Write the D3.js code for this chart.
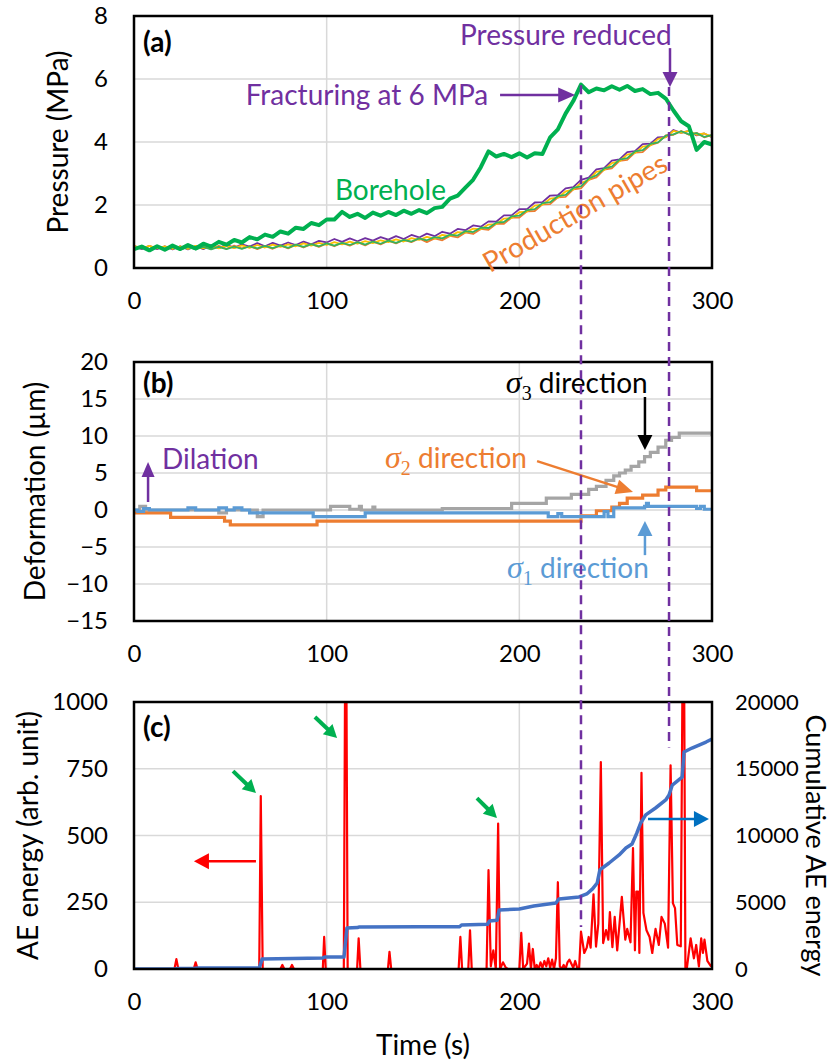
<!DOCTYPE html>
<html>
<head>
<meta charset="utf-8">
<script src="https://cdn.jsdelivr.net/npm/d3@7"></script>
<style>
  body { margin: 0; background: #fff; }
  text { font-family: Lato, 'Open Sans', sans-serif; }
</style>
</head>
<body>
<svg id="chart" width="832" height="1064"></svg>
<script>
// ---- data ----

// panel (a): pressure in MPa, sampled every 4 s from 0 to 300 s
const pressureTime = d3.range(0, 301, 4)
const boreholePressure = [0.60,0.68,0.56,0.69,0.58,0.71,0.60,0.73,0.62,0.77,
  0.68,0.83,0.74,0.89,0.81,0.98,0.91,1.06,0.99,1.16,
  1.09,1.28,1.24,1.43,1.36,1.54,1.54,1.78,1.62,1.72,
  1.59,1.76,1.66,1.78,1.68,1.82,1.72,1.84,1.74,1.90,
  1.94,2.20,2.30,2.55,2.80,3.20,3.70,3.54,3.62,3.52,
  3.64,3.51,3.64,3.62,4.15,4.40,4.90,5.30,5.82,5.58,
  5.70,5.64,5.77,5.66,5.78,5.62,5.68,5.52,5.56,5.38,
  5.00,4.66,4.50,3.75,4.00,3.92]
const pipePurple = [0.70,0.60,0.70,0.60,0.69,0.59,0.69,0.59,0.70,0.60,
  0.73,0.63,0.74,0.64,0.75,0.68,0.79,0.69,0.80,0.71,
  0.81,0.73,0.84,0.75,0.86,0.81,0.92,0.83,0.94,0.85,
  0.95,0.87,0.98,0.90,1.01,0.92,1.05,0.97,1.09,1.01,
  1.15,1.09,1.24,1.20,1.35,1.31,1.48,1.47,1.67,1.67,
  1.87,1.87,2.08,2.09,2.30,2.31,2.53,2.57,2.80,2.87,
  3.13,3.17,3.41,3.45,3.68,3.71,3.93,3.95,4.15,4.16,
  4.38,4.29,4.35,4.21,4.27,4.15]
const pipeOrange = [0.60,0.70,0.60,0.70,0.59,0.69,0.59,0.69,0.60,0.70,
  0.60,0.70,0.61,0.71,0.62,0.69,0.60,0.70,0.61,0.72,
  0.62,0.74,0.65,0.76,0.67,0.78,0.69,0.80,0.71,0.82,
  0.72,0.84,0.75,0.87,0.78,0.89,0.82,0.94,0.82,0.94,
  0.88,1.02,0.97,1.13,1.08,1.24,1.21,1.40,1.40,1.60,
  1.60,1.80,1.81,2.02,2.03,2.24,2.26,2.50,2.53,2.80,
  2.88,3.12,3.16,3.40,3.43,3.66,3.68,3.90,3.98,4.21,
  4.23,4.35,4.23,4.29,4.15,4.23]
const pipeYellow = [0.70,0.62,0.70,0.62,0.69,0.61,0.69,0.61,0.70,0.62,
  0.70,0.62,0.71,0.63,0.72,0.64,0.73,0.65,0.74,0.67,
  0.75,0.69,0.78,0.71,0.80,0.73,0.82,0.75,0.84,0.77,
  0.85,0.79,0.88,0.82,0.91,0.84,0.95,0.89,0.99,0.93,
  1.05,1.01,1.14,1.12,1.25,1.23,1.38,1.39,1.57,1.59,
  1.77,1.79,1.98,2.01,2.20,2.23,2.43,2.49,2.70,2.79,
  3.05,3.11,3.33,3.39,3.60,3.65,3.85,3.89,4.10,4.15,
  4.35,4.29,4.35,4.23,4.27,4.17]
const pipeGreen = [0.59,0.67,0.59,0.67,0.58,0.66,0.58,0.66,0.59,0.67,
  0.59,0.67,0.60,0.68,0.61,0.69,0.62,0.70,0.63,0.72,
  0.64,0.74,0.67,0.76,0.69,0.78,0.71,0.80,0.73,0.82,
  0.74,0.84,0.77,0.87,0.80,0.89,0.84,0.94,0.88,0.98,
  0.94,1.06,1.03,1.17,1.14,1.28,1.27,1.44,1.46,1.64,
  1.66,1.84,1.87,2.06,2.09,2.28,2.32,2.54,2.59,2.84,
  2.94,3.16,3.22,3.44,3.49,3.70,3.74,3.94,3.99,4.20,
  4.24,4.34,4.24,4.28,4.16,4.22]

// panel (b): deformation steps [time s, µm]
const sigma3Steps = [[0,0],[3,0.5],[6,0],[44,-0.4],[48,0],[64,-0.9],[67,0],[102,0.5],[112,0.1],
  [117,0.5],[118,0],[124,0.4],[125,0],[160,0.2],[196,0.9],[214,1.6],[227,2.1],[236,2.8],
  [240,3.2],[245,4.0],[249,4.6],[252,5.0],[255,5.4],[258,5.9],[262,6.5],[265,7.2],[268,7.8],
  [272,8.5],[276,9.4],[279,9.8],[283,10.4],[299,10.4],[300,10.0]]
const sigma2Steps = [[0,-0.4],[19,-1.0],[47,-1.5],[50,-2.0],[95,-1.5],[232,-0.8],[240,-0.1],
  [248,0.4],[252,0.9],[256,1.6],[264,2.0],[272,2.7],[276,3.1],[292,2.6],[300,2.6]]
const sigma1Steps = [[0,0],[2,-0.2],[5,0.2],[8,0],[28,0.3],[32,0],[44,0.3],[48,0],[52,0.3],
  [56,0],[60,-0.4],[93,-0.9],[120,-0.4],[215,-0.9],[220,-0.5],[222,-0.9],[244,-0.2],
  [246,-0.9],[249,0.3],[265,0.5],[266,0.9],[267,0.5],[290,0.5],[292,0.2],[294,0.5],
  [296,0.1],[300,0.1]]

// panel (c): AE energy [time s, arb. unit] and cumulative AE energy
const aeEnergy = [[0,0],[21,0],[22,37],[23,0],[31,0],[32,25],[33,0],[65,0],[65.8,648],[66.8,0],
  [76,0],[77,15],[78,0],[81,0],[82,15],[83,0],[98,0],[98.7,120],[99.5,0],
  [108.9,0],[109.5,1000],[110.3,1000],[110.9,0],[115.8,0],[116.6,115],[117.5,0],
  [131.8,0],[132.6,64],[133.5,0],[168.5,0],[169.4,120],[170.3,0],[173.5,0],[174.4,145],[175.3,0],
  [183,0],[184,370],[185.2,10],[186.5,70],[187.8,0],[189,545],[190,0],[191.5,25],[193,5],[194,0],
  [200,0],[201,135],[202,0],[204,20],[205,95],[206,0],[207,75],[208,0],[209,15],[210,0],
  [211,25],[212,5],[213,30],[214,10],[215,40],[216,5],[217,35],[218,0],[219,40],[220,325],
  [221,10],[222,0],[223,15],[224,0],[225,25],[226,35],[227,20],[228,5],[229,30],[230,5],[231,0],
  [232,140],[233.7,60],[235,80],[236,120],[237,80],[238.5,280],[239.8,84],[241,170],[242.3,775],
  [243.5,97],[245,146],[246.2,110],[247,213],[248.3,82],[249.5,195],[250.8,70],[253.2,270],
  [255,110],[256,150],[257.7,100],[259,453],[260,70],[260.7,290],[261.7,290],[262.3,60],
  [263.4,735],[264.4,210],[266,145],[267.6,120],[269,60],[270.7,150],[272.4,90],[273.8,195],
  [275.5,170],[277.2,80],[278.5,763],[279.7,247],[280.8,228],[282,90],[283.8,85],[284.6,1000],
  [285.6,1000],[286.2,5],[287,5],[288.9,115],[290.6,40],[291.8,90],[293.2,10],[294.4,115],
  [295.3,60],[296.1,110],[297.6,30],[299.3,12],[300,15]]
const cumulativeAE = [[0,0],[21,0],[23,40],[31,40],[33,70],[65,70],[66.5,750],[98,830],[99,900],
  [109,900],[110.5,3070],[116,3100],[117,3150],[148,3170],[169,3170],[170,3300],[183.5,3350],
  [184.5,3600],[188.5,3650],[189.5,4420],[200,4500],[207.5,4720],[219,4940],[220.5,5240],
  [231,5400],[235,5620],[238,6000],[240.4,6440],[241.8,7420],[246.6,7940],[251.8,8540],
  [255.3,9060],[258.5,9360],[261,10190],[263,10940],[265.6,11540],[270.7,12060],[276,12660],
  [277.7,13030],[279.4,13780],[284.5,14380],[285.5,16250],[289.6,16550],[296.9,17000],[300,17230]]

// ticks
const timeTicks = [0, 100, 200, 300]
const pressureTicks = [0, 2, 4, 6, 8]
const deformationTicks = [-15, -10, -5, 0, 5, 10, 15, 20]
const energyTicks = [0, 250, 500, 750, 1000]
const cumulativeTicks = [0, 5000, 10000, 15000, 20000]

// event times (dashed lines)
const fractureTime = 232
const reduceTime = 277.7

// ---- layout ----
const width = 832
const height = 1064
const plotLeft = 134
const plotRight = 712
const textSize = 28
const tickSize = 24

const purple = '#7030A0'
const orange = '#ED7D31'
const gridColor = '#D9D9D9'

const svg = d3.select('#chart')
svg.append('rect').attr('width', width).attr('height', height).attr('fill', '#fff')

const x = d3.scaleLinear().domain([0, 300]).range([plotLeft, plotRight])
const yA = d3.scaleLinear().domain([0, 8]).range([268, 16])
const yB = d3.scaleLinear().domain([-15, 20]).range([621, 362])
const yC = d3.scaleLinear().domain([0, 1000]).range([969, 702])
const yC2 = d3.scaleLinear().domain([0, 20000]).range([969, 702])

const defs = svg.append('defs')

function styleAxis(a) {
  a.select('.domain').remove()
  a.selectAll('text').attr('font-size', tickSize).attr('fill', '#000')
    .attr('font-family', 'Lato, sans-serif')
}

function panel(id, y, yTicks) {
  const g = svg.append('g').attr('id', id)
  const [y0, y1] = y.range()
  // grid
  g.append('g')
    .selectAll('line')
    .data(yTicks.slice(1, -1))
    .join('line')
    .attr('x1', plotLeft).attr('x2', plotRight)
    .attr('y1', (d) => y(d)).attr('y2', (d) => y(d))
    .attr('stroke', gridColor).attr('stroke-width', 1.5)
  g.append('g')
    .selectAll('line')
    .data(timeTicks.slice(1, -1))
    .join('line')
    .attr('x1', (d) => x(d)).attr('x2', (d) => x(d))
    .attr('y1', y1).attr('y2', y0)
    .attr('stroke', gridColor).attr('stroke-width', 1.5)

  defs.append('clipPath').attr('id', id + '-clip')
    .append('rect')
    .attr('x', plotLeft).attr('y', y1)
    .attr('width', plotRight - plotLeft).attr('height', y0 - y1)

  // axes, no tick marks, like the reference
  g.append('g')
    .attr('transform', `translate(${plotLeft},0)`)
    .call(d3.axisLeft(y).tickValues(yTicks).tickFormat(d3.format('d')).tickSize(0).tickPadding(26))
    .call(styleAxis)
  g.append('g')
    .attr('transform', `translate(0,${y0})`)
    .call(d3.axisBottom(x).tickValues(timeTicks).tickFormat(d3.format('d')).tickSize(0).tickPadding(24))
    .call(styleAxis)
  return g
}

function frame(g, y) {
  const [y0, y1] = y.range()
  g.append('rect')
    .attr('x', plotLeft).attr('y', y1)
    .attr('width', plotRight - plotLeft).attr('height', y0 - y1)
    .attr('fill', 'none').attr('stroke', '#000').attr('stroke-width', 2.5)
}

function arrow(g, x1, y1, x2, y2, color, lw, headLen, headW) {
  const dx = x2 - x1
  const dy = y2 - y1
  const len = Math.hypot(dx, dy)
  const ux = dx / len
  const uy = dy / len
  const bx = x2 - ux * headLen
  const by = y2 - uy * headLen
  g.append('line')
    .attr('x1', x1).attr('y1', y1).attr('x2', bx + ux).attr('y2', by + uy)
    .attr('stroke', color).attr('stroke-width', lw)
  g.append('path')
    .attr('d', `M${x2},${y2}L${bx - uy * headW / 2},${by + ux * headW / 2}L${bx + uy * headW / 2},${by - ux * headW / 2}Z`)
    .attr('fill', color)
}

function label(g, text, px, py, color, opts = {}) {
  return g.append('text')
    .attr('x', px).attr('y', py)
    .attr('dy', '0.35em')
    .attr('font-size', opts.size || textSize)
    .attr('font-weight', opts.bold ? 'bold' : null)
    .attr('text-anchor', opts.anchor || 'start')
    .attr('fill', color)
    .text(text)
}

function axisTitle(g, text, px, py, angle, size = textSize) {
  g.append('text')
    .attr('transform', `translate(${px},${py}) rotate(${angle})`)
    .attr('text-anchor', 'middle').attr('dy', '0.35em')
    .attr('font-size', size)
    .text(text)
}

function sigmaLabel(g, sub, px, py, color) {
  const t = g.append('text')
    .attr('x', px).attr('y', py).attr('dy', '0.35em')
    .attr('font-size', textSize).attr('fill', color)
  t.append('tspan')
    .attr('font-family', "'Liberation Serif', 'DejaVu Serif', serif")
    .attr('font-style', 'italic').attr('font-size', 32)
    .text('σ')
  t.append('tspan')
    .attr('font-family', "'Liberation Serif', 'DejaVu Serif', serif")
    .attr('font-size', 20).attr('dy', 7)
    .text(sub)
  t.append('tspan').attr('dy', -7).text(' direction')
  return t
}

// ---- panel (a) ----
const gA = panel('panel-a', yA, pressureTicks)
const pressureLine = (values) =>
  d3.line().x((d, i) => x(pressureTime[i])).y((d) => yA(d))(values)

const pipes = [
  { values: pipePurple, color: purple },
  { values: pipeOrange, color: orange },
  { values: pipeYellow, color: '#FFC000' },
  { values: pipeGreen, color: '#35B35C' },
]
gA.append('g')
  .attr('clip-path', 'url(#panel-a-clip)')
  .selectAll('path')
  .data(pipes)
  .join('path')
  .attr('d', (d) => pressureLine(d.values))
  .attr('fill', 'none')
  .attr('stroke', (d) => d.color)
  .attr('stroke-width', 1.8)
  .attr('stroke-linejoin', 'round')

gA.append('path')
  .attr('d', pressureLine(boreholePressure))
  .attr('fill', 'none')
  .attr('stroke', '#00B050')
  .attr('stroke-width', 4)
  .attr('stroke-linejoin', 'round')
frame(gA, yA)

label(gA, '(a)', x(4.7), yA(7.17), '#000', { bold: true })
label(gA, 'Fracturing at 6 MPa', x(58), yA(5.49), purple)
arrow(gA, x(190), yA(5.49), x(229), yA(5.49), purple, 2.5, 17, 15)
label(gA, 'Pressure reduced', x(169.2), yA(7.4), purple)
arrow(gA, x(278.2), yA(6.98), x(278.2), yA(5.75), purple, 2.5, 15, 15)
label(gA, 'Borehole', x(104.3), yA(2.48), '#00B050')
label(gA, 'Production pipes', x(228.9), yA(1.75), orange, { anchor: 'middle' })
  .attr('transform', `rotate(-30,${x(228.9)},${yA(1.75)})`)
axisTitle(gA, 'Pressure (MPa)', 58, (yA(0) + yA(8)) / 2, -90)

// ---- panel (b) ----
const gB = panel('panel-b', yB, deformationTicks)
const stepLine = d3.line().curve(d3.curveStepAfter).x((d) => x(d[0])).y((d) => yB(d[1]))
const deformation = [
  { values: sigma3Steps, color: '#A5A5A5' },
  { values: sigma2Steps, color: orange },
  { values: sigma1Steps, color: '#5B9BD5' },
]
gB.append('g')
  .attr('clip-path', 'url(#panel-b-clip)')
  .selectAll('path')
  .data(deformation)
  .join('path')
  .attr('d', (d) => stepLine(d.values))
  .attr('fill', 'none')
  .attr('stroke', (d) => d.color)
  .attr('stroke-width', 3.2)
frame(gB, yB)

label(gB, '(b)', x(4.7), yB(17.2), '#000', { bold: true })
label(gB, 'Dilation', x(14.5), yB(6.9), purple)
arrow(gB, x(7.3), yB(1.08), x(7.3), yB(6.5), purple, 2.5, 15, 13)
sigmaLabel(gB, '3', x(193), yB(17.2), '#000')
arrow(gB, x(265.2), yB(15.27), x(265.2), yB(8.1), '#000', 2.5, 15, 15)
sigmaLabel(gB, '2', x(130.3), yB(7.0), orange)
arrow(gB, x(209.2), yB(6.6), x(259), yB(2.43), orange, 2.5, 17, 15)
sigmaLabel(gB, '1', x(193.6), yB(-7.8), '#5B9BD5')
arrow(gB, x(265.2), yB(-6.1), x(265.2), yB(-1.5), '#5B9BD5', 2.5, 15, 15)
axisTitle(gB, 'Deformation (µm)', 35, (yB(-15) + yB(20)) / 2, -90)

// ---- panel (c) ----
const gC = panel('panel-c', yC, energyTicks)
gC.append('g')
  .attr('transform', `translate(${plotRight},0)`)
  .call(d3.axisRight(yC2).tickValues(cumulativeTicks).tickFormat(d3.format('d')).tickSize(0).tickPadding(23))
  .call(styleAxis)
  .call((a) => a.selectAll('text').attr('font-size', 22))

gC.append('path')
  .attr('clip-path', 'url(#panel-c-clip)')
  .attr('d', d3.line().x((d) => x(d[0])).y((d) => yC(d[1]))(aeEnergy))
  .attr('fill', 'none')
  .attr('stroke', '#FF0000')
  .attr('stroke-width', 2.2)
  .attr('stroke-linejoin', 'round')
gC.append('path')
  .attr('clip-path', 'url(#panel-c-clip)')
  .attr('d', d3.line().x((d) => x(d[0])).y((d) => yC2(d[1]))(cumulativeAE))
  .attr('fill', 'none')
  .attr('stroke', '#4472C4')
  .attr('stroke-width', 3.5)
  .attr('stroke-linejoin', 'round')
frame(gC, yC)

label(gC, '(c)', x(4.7), yC(906), '#000', { bold: true })
arrow(gC, x(63.3), yC(404), x(31.1), yC(404), '#FF0000', 2.5, 15, 16)
arrow(gC, x(266.8), yC2(11236), x(298.4), yC2(11236), '#0070C0', 2.5, 15, 16)
const greenArrows = [
  [51.4, 741, 63.3, 659],
  [93.9, 944, 105.4, 865],
  [178, 640, 188.4, 566],
]
greenArrows.forEach((d) =>
  arrow(gC, x(d[0]), yC(d[1]), x(d[2]), yC(d[3]), '#00B050', 4, 13, 14))

axisTitle(gC, 'AE energy (arb. unit)', 28, (yC(0) + yC(1000)) / 2, -90)
axisTitle(gC, 'Cumulative AE energy', 815, (yC(0) + yC(1000)) / 2 + 10, 90, 27)
gC.append('text')
  .attr('x', (plotLeft + plotRight) / 2).attr('y', 1045)
  .attr('text-anchor', 'middle').attr('dy', '0.35em')
  .attr('font-size', textSize)
  .text('Time (s)')

// ---- dashed event lines across panels ----
const events = [
  { t: fractureTime, top: yA(5.8), bottom: yC(157) },
  { t: reduceTime, top: yA(5.75), bottom: yC(830) },
]
svg.append('g')
  .selectAll('line')
  .data(events)
  .join('line')
  .attr('x1', (d) => x(d.t)).attr('x2', (d) => x(d.t))
  .attr('y1', (d) => d.top).attr('y2', (d) => d.bottom)
  .attr('stroke', purple)
  .attr('stroke-width', 2.5)
  .attr('stroke-dasharray', '9,6')
</script>
</body>
</html>
